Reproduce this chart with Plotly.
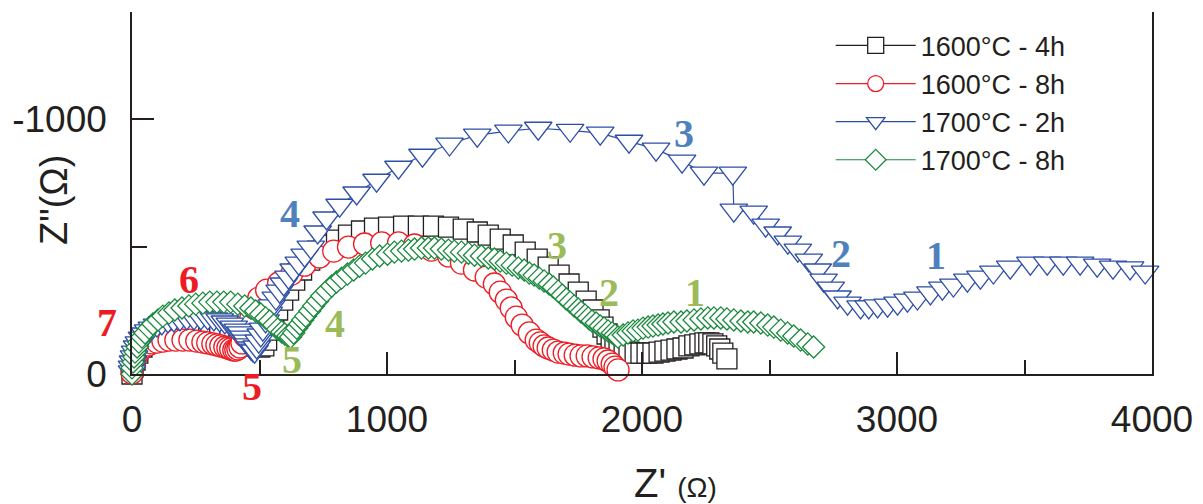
import plotly.graph_objects as go

# ---- data (Z' and Z'' in ohm) ----
black_re = [0,4,12,23,39,63,90,125,164,207,254,301,344,384,419,450,478,501,517,528,540,556,571,591,614,638,665,697,728,763,802,849,900,951,1006,1065,1123,1182,1241,1299,1354,1397,1444,1495,1542,1589,1632,1675,1714,1750,1781,1808,
            1832,1847,1863,1879,1894,1910,1930,1949,1973,1996,2020,2043,2067,2090,2114,2137,2161,2184,2207,2227,2247,2262,2278,2293,2305,2317,2333]
black_im = [0,-27,-55,-82,-106,-125,-141,-153,-161,-165,-165,-161,-153,-141,-129,-118,-110,-106,-110,-133,-172,-212,-251,-290,-329,-368,-408,-447,-482,-506,-525,-545,-561,-572,-576,-580,-580,-580,-576,-568,-557,-545,-529,-506,-478,-451,-419,-388,-353,-321,-286,-251,
            -212,-184,-157,-133,-118,-106,-94,-86,-82,-82,-82,-82,-86,-90,-94,-98,-102,-110,-114,-118,-122,-122,-118,-110,-98,-82,-59]

red_re = [0,0,4,8,16,23,35,47,63,78,98,121,145,172,200,227,254,278,297,317,333,348,364,376,387,399,407,415,423,431,442,454,466,478,497,
          528,575,626,677,736,791,849,912,979,1045,1108,1174,1241,1292,1343,1389,1421,1444,1468,1487,1507,1530,1558,
          1585,1601,1616,1632,1652,1671,1695,1714,1738,1761,1785,1808,1832,1851,1867,1883,1894,1906]
red_im = [-4,-20,-35,-51,-67,-82,-94,-106,-114,-122,-125,-129,-133,-133,-133,-133,-129,-125,-122,-118,-114,-110,-106,-102,-98,-94,-94,-98,-106,-122,-149,-180,-220,-259,-298,
          -329,-357,-392,-427,-459,-482,-498,-510,-514,-514,-506,-486,-463,-435,-408,-380,-353,-321,-290,-259,-223,-192,-161,
          -133,-122,-110,-102,-94,-86,-82,-78,-74,-71,-71,-67,-63,-59,-51,-39,-27,-16]

blue_re = [0,0,4,8,12,20,27,39,51,63,78,98,117,141,164,188,215,243,270,297,321,344,364,384,399,415,427,438,450,458,
           466,474,481,489,497,505,513,524,536,548,564,579,595,614,634,654,677,701,728,763,814,
           881,959,1045,1139,1245,1354,1476,1593,1718,1836,1949,2055,2157,2243,2356,2360,2438,2485,2532,2572,2611,2654,2689,2712,2740,2767,2806,2857,2889,2924,2963,3002,3041,3080,3131,3178,3221,3276,3327,3378,3444,3523,3589,3652,3718,3785,3847,3914,3973]
blue_im = [-8,-27,-47,-67,-86,-106,-122,-141,-157,-169,-180,-192,-200,-208,-212,-216,-220,-220,-220,-220,-216,-212,-204,-196,-184,-172,-161,-145,-129,-114,
           -102,-94,-90,-106,-129,-153,-176,-208,-239,-267,-298,-325,-353,-380,-408,-435,-466,-498,-557,-612,-662,
           -710,-760,-811,-858,-902,-937,-953,-964,-956,-945,-913,-882,-835,-788,-788,-643,-635,-584,-553,-517,-486,-447,-408,-368,-337,-302,-278,-263,-263,-267,-270,-278,-290,-298,-318,-337,-349,-368,-380,-400,-419,-435,-435,-435,-435,-427,-419,-416,-400]

green_re = [0,0,4,8,12,20,27,39,51,67,82,102,121,145,168,196,223,250,278,305,333,360,387,415,442,466,485,505,524,540,
            556,571,587,599,611,622,634,646,658,669,681,697,712,728,744,763,783,802,822,845,869,892,916,943,971,1002,1029,1057,1084,1108,
            1135,1162,1186,1213,1241,1264,1292,1319,1343,1370,1397,1421,1444,1468,1491,1515,1538,1558,1577,1597,
            1616,1636,1652,1671,1687,1703,1718,1734,1750,1761,1777,1789,1804,1820,1836,1851,1867,1883,1894,
            1906,1926,1945,1965,1984,2004,2024,2043,2063,2082,2102,2125,2153,2176,2204,2231,2258,2282,2309,2333,2360,2388,2415,2438,2466,2493,2517,2544,2571,2595,2622,2650,2673]
green_im = [0,-24,-47,-67,-86,-106,-125,-145,-161,-180,-196,-212,-227,-239,-251,-259,-267,-274,-278,-282,-282,-282,-282,-274,-267,-259,-247,-235,-220,-208,
            -192,-176,-165,-157,-149,-145,-161,-180,-196,-212,-227,-247,-267,-286,-306,-325,-345,-361,-376,-392,-408,-423,-435,-451,-463,-470,-478,-482,-486,-490,
            -494,-494,-494,-490,-486,-482,-478,-474,-466,-463,-455,-451,-443,-435,-427,-416,-408,-396,-388,-376,
            -365,-353,-341,-325,-310,-294,-282,-267,-255,-243,-231,-220,-208,-200,-188,-180,-169,-161,-153,
            -145,-153,-161,-169,-172,-180,-184,-188,-192,-196,-200,-204,-204,-208,-212,-216,-220,-220,-220,-216,-212,-208,-204,-204,-200,-192,-184,-172,-161,-149,-133,-118,-106]

series_names = ["1600°C - 4h", "1600°C - 8h", "1700°C - 2h", "1700°C - 8h"]

# arc labels placed in data units (Z', Z'')
label_text = ["6", "4", "3", "2", "1", "5", "4", "3", "2", "1"]
label_re = [223, 618, 2164, 2779, 3151, 626, 795, 1667, 1871, 2207]
label_im = [-372, -631, -945, -474, -466, -55, -200, -506, -321, -321]
label_group = ["r", "b", "b", "b", "b", "g", "g", "g", "g", "g"]
# arc labels that sit outside the axes (placed in paper fractions)
outer_text = ["7", "5"]
outer_x = [-0.0245, 0.1174]
outer_y = [0.1436, -0.0359]
outer_group = ["r", "r"]

# ---- styles ----
AXIS = "#231f20"
styles = [
    dict(symbol="square", size=20, color="#231f20"),
    dict(symbol="circle", size=22, color="#ed1c24"),
    dict(symbol="triangle-down", size=24, color="#2e4ea6"),
    dict(symbol="diamond", size=17, color="#1b8a3e"),
]
label_colors = {"r": "#ed1c24", "b": "#4f81bd", "g": "#9bbb59"}
label_font = dict(family="Liberation Serif", size=40)

fig = go.Figure()
for name, xs, ys, st in zip(series_names,
                            [black_re, red_re, blue_re, green_re],
                            [black_im, red_im, blue_im, green_im],
                            styles):
    fig.add_trace(go.Scatter(
        x=xs, y=ys, name=name, mode="lines+markers", cliponaxis=False,
        line=dict(color=st["color"], width=1.2),
        marker=dict(symbol=st["symbol"], size=st["size"], color="white",
                    line=dict(color=st["color"], width=1.3)),
    ))

for t, xv, yv, g in zip(label_text, label_re, label_im, label_group):
    fig.add_annotation(x=xv, y=yv, xref="x", yref="y", text="<b>" + t + "</b>", showarrow=False,
                       font=dict(color=label_colors[g], **label_font),
                       xanchor="center", yanchor="middle")
for t, xv, yv, g in zip(outer_text, outer_x, outer_y, outer_group):
    fig.add_annotation(x=xv, y=yv, xref="paper", yref="paper", text="<b>" + t + "</b>", showarrow=False,
                       font=dict(color=label_colors[g], **label_font),
                       xanchor="center", yanchor="middle")

# axis titles
fig.add_annotation(xref="paper", yref="paper", x=0.533, y=-0.301, showarrow=False,
                   text="Z' <span style='font-size:28px'>(Ω)</span>",
                   font=dict(family="Liberation Sans", size=40, color=AXIS),
                   xanchor="center", yanchor="middle")
fig.add_annotation(xref="paper", yref="paper", x=-0.0763, y=0.481, showarrow=False,
                   text="Z\"(Ω)", textangle=-90,
                   font=dict(family="Liberation Sans", size=38, color=AXIS),
                   xanchor="center", yanchor="middle")

tickfont = dict(family="Liberation Sans", size=37, color=AXIS)
fig.update_layout(
    width=1195, height=496, autosize=False,
    margin=dict(l=122, r=51, t=4, b=130),
    paper_bgcolor="white", plot_bgcolor="white",
    showlegend=True,
    legend=dict(x=0.685, y=0.974, xanchor="left", yanchor="top",
                bgcolor="rgba(0,0,0,0)", borderwidth=0,
                font=dict(family="Liberation Sans", size=27, color=AXIS),
                itemwidth=80, tracegroupgap=0),
    xaxis=dict(range=[0, 4000], showline=True, linecolor=AXIS, linewidth=1.5,
               ticks="inside", ticklen=22, tickwidth=1.5, tickcolor=AXIS,
               tick0=0, dtick=1000, showgrid=False, zeroline=False,
               tickfont=tickfont, ticklabelstandoff=12,
               minor=dict(ticks="inside", dtick=500, tick0=0, ticklen=14,
                          tickwidth=1.5, tickcolor=AXIS, showgrid=False)),
    yaxis=dict(range=[0, -1420], showline=True, mirror=True, linecolor=AXIS,
               linewidth=1.5, ticks="inside", ticklen=22, tickwidth=1.5,
               tickcolor=AXIS, tickmode="array", tickvals=[0, -1000],
               ticktext=["0", "-1000"], showgrid=False, zeroline=False,
               tickfont=tickfont, ticklabelstandoff=16,
               minor=dict(ticks="inside", tickmode="array", tickvals=[-500],
                          ticklen=15, tickwidth=1.5, tickcolor=AXIS,
                          showgrid=False)),
)

fig.write_html("out.html")
